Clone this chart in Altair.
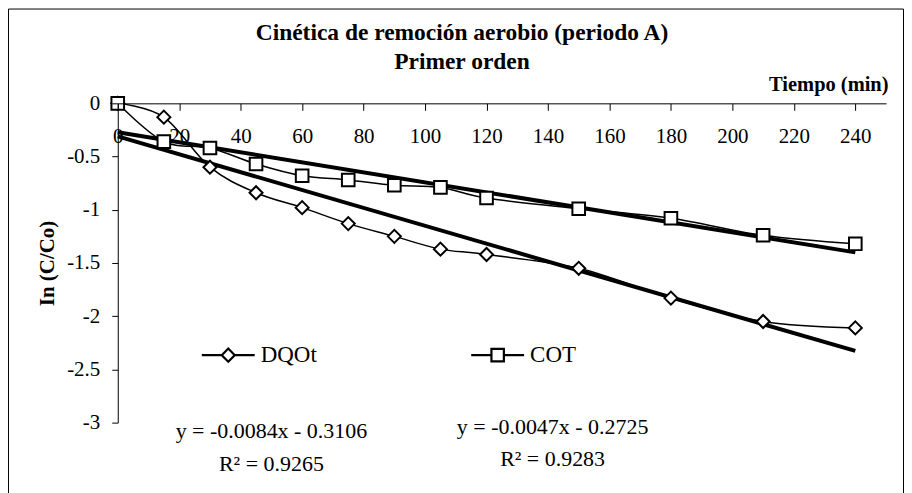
import altair as alt
import pandas as pd

# ---- data ----
tiempo = [0, 15, 30, 45, 60, 75, 90, 105, 120, 150, 180, 210, 240]
dqot = [0, -0.13, -0.60, -0.84, -0.98, -1.13, -1.25, -1.37, -1.42, -1.55, -1.83, -2.05, -2.11]
cot = [0, -0.36, -0.42, -0.57, -0.68, -0.72, -0.77, -0.79, -0.89, -0.99, -1.08, -1.24, -1.32]
series = ["DQOt", "COT"]

# linear trend lines (printed equations)
slopes = [-0.0084, -0.0047]
intercepts = [-0.3106, -0.2725]
r2 = [0.9265, 0.9283]
trend_t = [0, 240]

# equation label anchors (data units, text baseline)
eq_x = [50, 141.5]
eq_y = [-3.14, -3.11]
r2_y = [-3.45, -3.41]

x_ticks = [0, 20, 40, 60, 80, 100, 120, 140, 160, 180, 200, 220, 240]
y_ticks = [0, -0.5, -1, -1.5, -2, -2.5, -3]

FONT = "Liberation Serif"

# ---- tables ----
df = pd.DataFrame({
    "t": tiempo * 2,
    "v": dqot + cot,
    "serie": [series[0]] * len(tiempo) + [series[1]] * len(tiempo),
})

trend_rows = []
for s, m, b in zip(series, slopes, intercepts):
    for t in trend_t:
        trend_rows.append({"t": t, "v": m * t + b, "serie": s})
trend_df = pd.DataFrame(trend_rows)

eq_rows = []
for i, s in enumerate(series):
    b = intercepts[i]
    eq_rows.append({"t": eq_x[i], "v": eq_y[i],
                    "txt": f"y = {slopes[i]:.4f}x - {abs(b):.4f}"})
    eq_rows.append({"t": eq_x[i], "v": r2_y[i],
                    "txt": f"R\u00b2 = {r2[i]:.4f}"})
eq_df = pd.DataFrame(eq_rows)

x_scale = alt.Scale(domain=[0, 250], nice=False, zero=False)
y_scale = alt.Scale(domain=[-3, 0], nice=False, zero=False)

x_enc = alt.X("t:Q", scale=x_scale, axis=alt.Axis(
    values=x_ticks, orient="bottom", offset=-320, grid=False, zindex=2,
    title="Tiempo (min)", titleFont=FONT, titleFontSize=20.5, titleFontWeight="bold",
    titleAlign="right", titleBaseline="alphabetic", titleAnchor="end",
    titleX=772, titleY=-13, titleColor="black",
    labelFont=FONT, labelFontSize=21, labelColor="black", labelPadding=15,
    tickSize=7, tickColor="black", domainColor="black",
    labelExpr="'' + datum.value", labelFlush=False, labelOverlap=False))
y_enc = alt.Y("v:Q", scale=y_scale, axis=alt.Axis(
    values=y_ticks, grid=False, zindex=2,
    title="In (C/Co)", titleFont=FONT, titleFontSize=21, titleFontWeight="bold",
    titleAngle=-90, titleAlign="center", titleBaseline="middle",
    titleX=-70, titleY=160, titleColor="black",
    labelFont=FONT, labelFontSize=21, labelColor="black", labelPadding=12,
    tickSize=6, tickColor="black", domainColor="black",
    labelExpr="'' + datum.value", labelFlush=False, labelOverlap=False))

frame = alt.Chart(pd.DataFrame({"k": [0]})).mark_rect(
    fill="transparent", stroke="black", strokeWidth=1
).encode(x=alt.value(-109.5), x2=alt.value(787.5),
         y=alt.value(-94.5), y2=alt.value(420))

# legend layout (pixels); symbol paths span [-1, 1] = LINE_LEN px
LEG_X = [82.75, 352.75]
LEG_CY = 252
LINE_LEN = 53
SYM_W = 2.2
legend_paths = [
    "M-1,0L-0.245,0M0.245,0L1,0M0,-0.25L0.245,0L0,0.25L-0.245,0Z",
    "M-1,0L-0.235,0M0.235,0L1,0M-0.235,-0.235L0.235,-0.235L0.235,0.235L-0.235,0.235Z",
]


def series_line(i, with_axes):
    s = series[i]
    enc_x = x_enc if with_axes else alt.X("t:Q", scale=x_scale)
    enc_y = y_enc if with_axes else alt.Y("v:Q", scale=y_scale)
    return alt.Chart(df).transform_filter(
        alt.datum.serie == s
    ).mark_line(interpolate="cardinal", strokeWidth=1.5).encode(
        x=enc_x, y=enc_y,
        color=alt.Color("serie:N", scale=alt.Scale(domain=[s], range=["black"]),
                        legend=alt.Legend(
                            title=None, orient="none", legendX=LEG_X[i],
                            legendY=LEG_CY - (LINE_LEN + SYM_W) / 2,
                            symbolType=legend_paths[i], symbolSize=LINE_LEN ** 2,
                            symbolStrokeWidth=SYM_W, symbolStrokeColor="black",
                            labelFont=FONT, labelFontSize=23, labelColor="black",
                            labelOffset=4.5, padding=0, zindex=3)),
    )


lines_dqot = series_line(0, True)
lines_cot = series_line(1, False)

trends = alt.Chart(trend_df).mark_line(
    color="black", strokeWidth=4
).encode(x=alt.X("t:Q", scale=x_scale), y=alt.Y("v:Q", scale=y_scale), detail="serie:N")

points = alt.Chart(df).mark_point(
    filled=True, fill="white", stroke="black", strokeWidth=2, opacity=1
).encode(
    x=alt.X("t:Q", scale=x_scale), y=alt.Y("v:Q", scale=y_scale),
    shape=alt.Shape("serie:N", scale=alt.Scale(domain=series, range=["diamond", "square"]), legend=None),
    size=alt.Size("serie:N", scale=alt.Scale(domain=series, range=[170, 160]), legend=None),
)

eqs = alt.Chart(eq_df).mark_text(
    font=FONT, fontSize=22, color="black", align="center", baseline="alphabetic"
).encode(x=alt.X("t:Q", scale=x_scale), y=alt.Y("v:Q", scale=y_scale), text="txt:N")

chart = alt.layer(frame, lines_dqot, lines_cot, trends, points, eqs).resolve_scale(
    shape="independent", size="independent", color="independent"
).properties(
    width=770, height=320,
    padding={"left": 110, "top": 95, "right": 18, "bottom": 72},
    autosize=alt.AutoSizeParams(type="none"),
    title=alt.TitleParams(
        text=["Cinética de remoción aerobio (periodo A)", "Primer orden"],
        font=FONT, fontSize=23.5, fontWeight="bold", color="black",
        anchor="middle", dx=-40, offset=-65, lineHeight=29),
).configure_view(stroke=None)

chart.save("out.html", embed_options={"renderer": "svg", "actions": False})
